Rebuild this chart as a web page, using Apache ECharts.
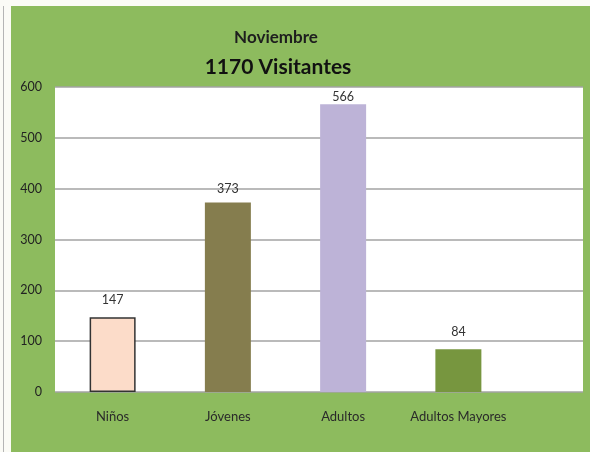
<!DOCTYPE html>
<html>
<head>
<meta charset="utf-8">
<script src="https://cdn.jsdelivr.net/npm/echarts@6/dist/echarts.min.js"></script>
<style>
  html, body { margin: 0; padding: 0; background: #ffffff; }
  #wrap { position: relative; width: 590px; height: 452px; background: #fbfbf6; }
  #edge { position: absolute; left: 3px; top: 6px; width: 1px; height: 446px; background: #b5b5b5; }
  #main { position: absolute; left: 11px; top: 6px; width: 579px; height: 446px; }
</style>
</head>
<body>
<div id="wrap">
  <div id="edge"></div>
  <div id="main"></div>
</div>
<script>
  // datos del gráfico
  var categorias = ['Niños', 'Jóvenes', 'Adultos', 'Adultos Mayores'];
  var visitantes = [147, 373, 566, 84];
  var colores = ['#fcdcc9', '#857d4e', '#bdb3d7', '#77963f'];
  var distEtiqueta = [11, 7, 1, 11]; // separación de cada etiqueta sobre la barra
  var titulo = 'Noviembre';
  var subtitulo = '1170 Visitantes';

  var fuente = 'Lato, "Open Sans", sans-serif';

  var myChart = echarts.init(document.getElementById('main'));
  myChart.setOption({
    backgroundColor: '#8dbb5e',
    animation: false,
    textStyle: { fontFamily: fuente },
    title: [
      {
        text: titulo, left: 260, top: 18, textAlign: 'center',
        textStyle: { fontSize: 17, fontWeight: 'bold', color: '#1e1e1e', fontFamily: fuente }
      },
      {
        text: subtitulo, left: 262, top: 46, textAlign: 'center',
        textStyle: { fontSize: 21, fontWeight: 'bold', color: '#111', fontFamily: fuente }
      }
    ],
    // grid 0: fondo blanco y líneas; grid 1: barras
    grid: [
      { left: 44, right: 7, top: 81, bottom: 60, show: true, backgroundColor: '#ffffff', borderWidth: 0 },
      { left: 44, right: 74, top: 81, bottom: 60 }
    ],
    xAxis: [
      { type: 'category', gridIndex: 0, data: [''], show: false },
      {
        type: 'category', gridIndex: 1, data: categorias,
        axisLine: { show: false }, axisTick: { show: false },
        axisLabel: { interval: 0, margin: 18, fontSize: 13, color: '#2a2a2a', fontFamily: fuente }
      }
    ],
    yAxis: [
      {
        type: 'value', gridIndex: 0, min: 0, max: 600, interval: 100,
        axisLine: { show: false }, axisTick: { show: false },
        axisLabel: { margin: 13, fontSize: 12.5, color: '#222', fontFamily: fuente },
        splitLine: { lineStyle: { color: '#a3a3a3', width: 1.5 } }
      },
      {
        type: 'value', gridIndex: 1, min: 0, max: 600, interval: 100,
        show: false, splitLine: { show: false }
      }
    ],
    series: [{
      type: 'bar',
      xAxisIndex: 1,
      yAxisIndex: 1,
      barWidth: 46,
      data: visitantes.map(function (v, i) {
        return {
          value: v,
          label: { distance: distEtiqueta[i] },
          itemStyle: {
            color: colores[i],
            borderColor: i === 0 ? '#333' : colores[i],
            borderWidth: i === 0 ? 1.5 : 0
          }
        };
      }),
      label: {
        show: true, position: 'top',
        fontSize: 12.5, color: '#333', fontFamily: fuente
      }
    }]
  });
</script>
</body>
</html>
